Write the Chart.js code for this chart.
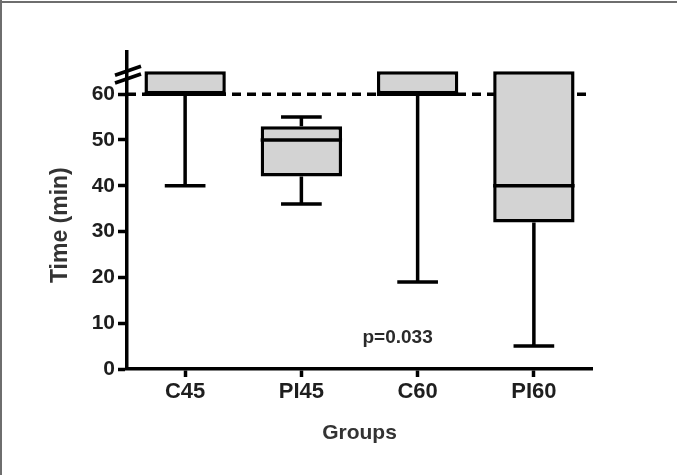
<!DOCTYPE html>
<html>
<head>
<meta charset="utf-8">
<script src="https://cdn.jsdelivr.net/npm/chart.js@4.4.0/dist/chart.umd.min.js"></script>
<style>
  body { margin: 0; background: #fff; overflow: hidden; }
  #wrap { width: 677px; height: 475px; }
</style>
</head>
<body>
<div id="wrap"><canvas id="grafico" width="677" height="475"></canvas></div>
<script>
// box plot values (min)
const groups = ['C45', 'PI45', 'C60', 'PI60'];
const whiskerLow = [40, 36, 19, 5];
const q1 = [60, 42, 60, 32];
const median = [60, 50, 60, 40];
const q3 = [65, 53, 65, 65];
const whiskerHigh = [65, 55, 65, 65];
const cutoff = 60;
const yTicks = [0, 10, 20, 30, 40, 50, 60];
const breakValues = [65.0, 63.3];
const pValue = 'p=0.033';
const yTitle = 'Time (min)';

const fonte = 'Liberation Sans, Arial, sans-serif';

const boxPlugin = {
  id: 'boxExtras',
  beforeDraw(chart) {
    const ctx = chart.ctx;
    ctx.save();
    ctx.fillStyle = '#6e6e6e';
    ctx.fillRect(0, 1, chart.width, 2);
    ctx.fillRect(0, 0, 2, chart.height);
    ctx.restore();
  },
  beforeDatasetsDraw(chart) {
    const ctx = chart.ctx;
    const y = chart.scales.y;
    const area = chart.chartArea;
    ctx.save();
    ctx.strokeStyle = '#000';
    ctx.lineWidth = 3.5;
    ctx.setLineDash([9, 6]);
    ctx.beginPath();
    ctx.moveTo(area.left, y.getPixelForValue(cutoff));
    ctx.lineTo(area.right, y.getPixelForValue(cutoff));
    ctx.stroke();
    ctx.restore();
  },
  afterDatasetsDraw(chart) {
    const ctx = chart.ctx;
    const y = chart.scales.y;
    const meta = chart.getDatasetMeta(0);
    ctx.save();
    ctx.strokeStyle = '#000';
    ctx.lineWidth = 3.5;
    meta.data.forEach((bar, i) => {
      const half = bar.width / 2;
      const cap = bar.width / 4;
      ctx.beginPath();
      // whisker de baixo
      ctx.moveTo(bar.x, y.getPixelForValue(q1[i]));
      ctx.lineTo(bar.x, y.getPixelForValue(whiskerLow[i]));
      ctx.moveTo(bar.x - cap, y.getPixelForValue(whiskerLow[i]));
      ctx.lineTo(bar.x + cap, y.getPixelForValue(whiskerLow[i]));
      // whisker de cima
      if (whiskerHigh[i] > q3[i]) {
        ctx.moveTo(bar.x, y.getPixelForValue(q3[i]));
        ctx.lineTo(bar.x, y.getPixelForValue(whiskerHigh[i]));
        ctx.moveTo(bar.x - cap, y.getPixelForValue(whiskerHigh[i]));
        ctx.lineTo(bar.x + cap, y.getPixelForValue(whiskerHigh[i]));
      }
      // mediana
      ctx.moveTo(bar.x - half, y.getPixelForValue(median[i]));
      ctx.lineTo(bar.x + half, y.getPixelForValue(median[i]));
      ctx.stroke();
    });
    ctx.restore();
  },
  afterDraw(chart) {
    const ctx = chart.ctx;
    const y = chart.scales.y;
    const area = chart.chartArea;
    ctx.save();
    // quebra do eixo
    ctx.strokeStyle = '#000';
    ctx.lineWidth = 3.5;
    ctx.beginPath();
    breakValues.forEach(v => {
      const py = y.getPixelForValue(v);
      ctx.moveTo(area.left - 12, py + 4);
      ctx.lineTo(area.left + 14, py - 5);
    });
    ctx.stroke();
    // p valor
    ctx.fillStyle = '#2a2a2a';
    ctx.font = 'bold 19px ' + fonte;
    ctx.textAlign = 'center';
    ctx.textBaseline = 'middle';
    ctx.fillText(pValue, area.left + (area.right - area.left) * 0.582, y.getPixelForValue(6.8));
    // titulo do eixo y, centrado em 0-60
    ctx.translate(61, y.getPixelForValue(31.4));
    ctx.rotate(-Math.PI / 2);
    ctx.fillStyle = '#333';
    ctx.font = 'bold 23px ' + fonte;
    ctx.fillText(yTitle, 0, 0);
    ctx.restore();
  }
};

new Chart(document.getElementById('grafico'), {
  type: 'bar',
  data: {
    labels: groups,
    datasets: [{
      data: groups.map((g, i) => [q1[i], q3[i]]),
      backgroundColor: '#d3d3d3',
      borderColor: '#000',
      borderWidth: 3.5,
      borderSkipped: false,
      barPercentage: 0.7,
      categoryPercentage: 1
    }]
  },
  options: {
    responsive: false,
    animation: false,
    layout: { padding: { left: 50, top: 52, right: 85, bottom: 29 } },
    plugins: { legend: { display: false }, tooltip: { enabled: false } },
    scales: {
      x: {
        afterFit: s => { s.height = 77; },
        grid: { offset: false, drawOnChartArea: false, drawTicks: true, tickLength: 8, tickWidth: 3.5, tickColor: '#000' },
        border: { color: '#000', width: 3.5 },
        ticks: { color: '#1e1e1e', padding: 2, font: { family: fonte, size: 22, weight: 'bold' } },
        title: { display: true, text: 'Groups', color: '#333', padding: 0, font: { family: fonte, size: 21, weight: 'bold' } }
      },
      y: {
        min: 0,
        max: 69.2,
        afterFit: s => { s.width = 77; },
        afterBuildTicks: s => { s.ticks = yTicks.map(v => ({ value: v })); },
        grid: { drawOnChartArea: false, drawTicks: true, tickLength: 9, tickWidth: 3.5, tickColor: '#000' },
        border: { color: '#000', width: 3.5 },
        ticks: { color: '#1e1e1e', padding: 3, font: { family: fonte, size: 21, weight: 'bold' } },
        title: { display: false }
      }
    }
  },
  plugins: [boxPlugin]
});
</script>
</body>
</html>
